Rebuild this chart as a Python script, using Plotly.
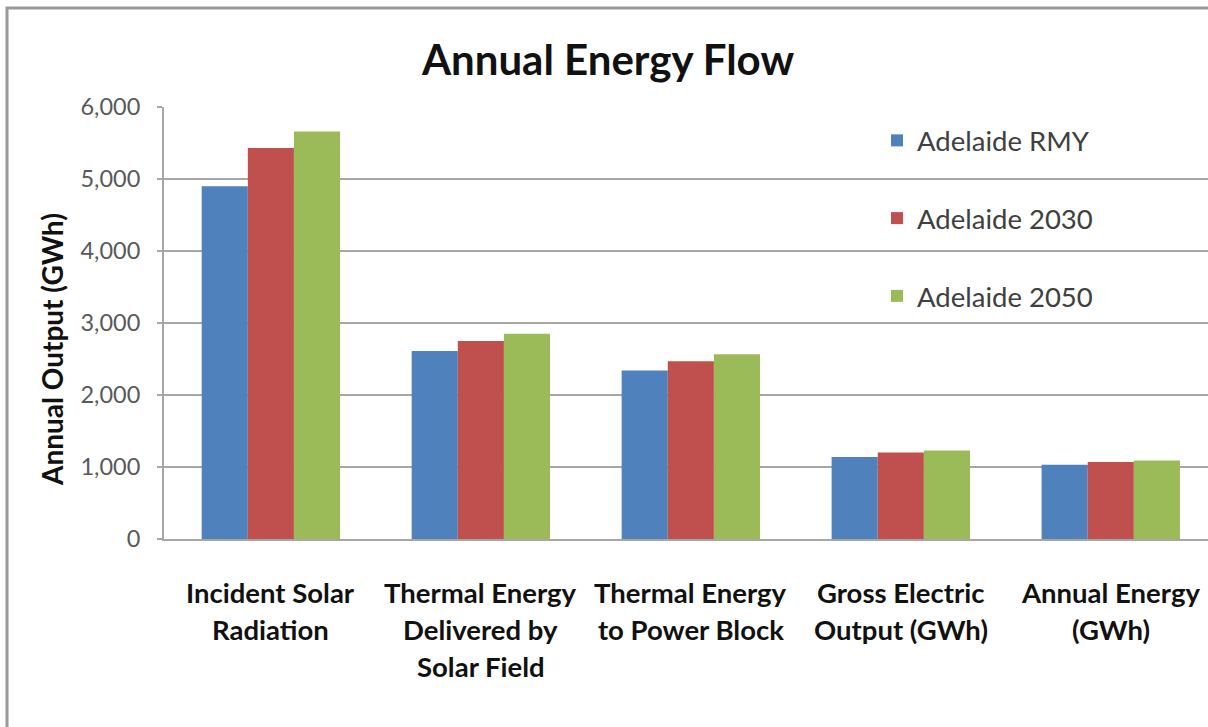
import plotly.graph_objects as go

# Category labels, split into the lines shown under each group
categories = [
    "Incident Solar Radiation",
    "Thermal Energy Delivered by Solar Field",
    "Thermal Energy to Power Block",
    "Gross Electric Output (GWh)",
    "Annual Energy (GWh)",
]
label_lines = [
    ["Incident Solar", "Radiation"],
    ["Thermal Energy", "Delivered by", "Solar Field"],
    ["Thermal Energy", "to Power Block"],
    ["Gross Electric", "Output (GWh)"],
    ["Annual Energy", "(GWh)"],
]

# Annual output per scenario (GWh)
series_names = ["Adelaide RMY", "Adelaide 2030", "Adelaide 2050"]
rmy = [4900, 2610, 2340, 1140, 1030]
y2030 = [5430, 2750, 2470, 1200, 1070]
y2050 = [5660, 2850, 2565, 1230, 1090]
series_values = [rmy, y2030, y2050]
series_colors = ["#4F81BD", "#C0504D", "#9BBB59"]

y_ticks = [0, 1000, 2000, 3000, 4000, 5000, 6000]

FONT = "Lato"
W, H = 1208, 727
ML, MR, MT, MB = 164, 0, 107, 188
plot_h = H - MT - MB
plot_w = W - ML - MR

fig = go.Figure()
for i, (name, vals, col) in enumerate(zip(series_names, series_values, series_colors)):
    fig.add_trace(go.Bar(
        x=categories, y=vals, name=name,
        marker=dict(color=col, line=dict(width=0)),
        legendgroup=f"g{i}",
    ))

# Multi-line category labels below the axis
line_offsets = [-53, -90, -127]
for cat, lines in zip(categories, label_lines):
    for j, txt in enumerate(lines):
        fig.add_annotation(
            x=cat, xref="x", y=0, yref="y",
            text=txt, showarrow=False,
            xanchor="center", yanchor="middle", yshift=line_offsets[j],
            font=dict(family=FONT, size=27.5, color="#111111", weight="bold"),
        )

# Vertical axis title
fig.add_annotation(
    x=0, xref="paper", y=(H - MB - 350) / plot_h, yref="paper",
    xshift=52 - ML, text="Annual Output (GWh)", textangle=-90,
    showarrow=False, xanchor="center", yanchor="middle",
    font=dict(family=FONT, size=28, color="#111111", weight="bold"),
)

# Chart frame (left and top edges visible)
fx0 = (7 - ML) / plot_w
fy1 = (H - MB - 8) / plot_h
fig.add_shape(type="rect", xref="paper", yref="paper",
              x0=fx0, y0=-1.0, x1=1.2, y1=fy1,
              line=dict(color="#9A9A9A", width=3), layer="below")

fig.update_layout(
    width=W, height=H,
    margin=dict(l=ML, r=MR, t=MT, b=MB),
    paper_bgcolor="white", plot_bgcolor="white",
    barmode="group", bargap=0.341, bargroupgap=0,
    title=dict(text="<b>Annual Energy Flow</b>", x=608 / W, xref="container",
               xanchor="center", y=(H - 60) / H, yref="container", yanchor="middle",
               font=dict(family=FONT, size=42, color="#111111")),
    showlegend=True,
    legend=dict(x=(877 - ML) / plot_w, xanchor="left",
                y=(H - MB - 116) / plot_h, yanchor="top",
                font=dict(family=FONT, size=27.5, color="#404040"),
                bgcolor="rgba(0,0,0,0)", tracegroupgap=39,
                itemclick=False),
    xaxis=dict(range=[-0.509, 4.463], showticklabels=False, ticks="",
               showline=True, linecolor="#A6A6A6", linewidth=2,
               showgrid=False, zeroline=False, fixedrange=True),
    yaxis=dict(range=[0, 6000], tickvals=y_ticks, tickformat=",",
               tickfont=dict(family=FONT, size=23.5, color="#595959"),
               ticks="outside", ticklen=5, tickcolor="#A6A6A6", tickwidth=2,
               ticklabelstandoff=12,
               showline=True, linecolor="#A6A6A6", linewidth=2,
               showgrid=True, gridcolor="#A6A6A6", gridwidth=2,
               zeroline=False, fixedrange=True),
)

fig.write_html("out.html")
